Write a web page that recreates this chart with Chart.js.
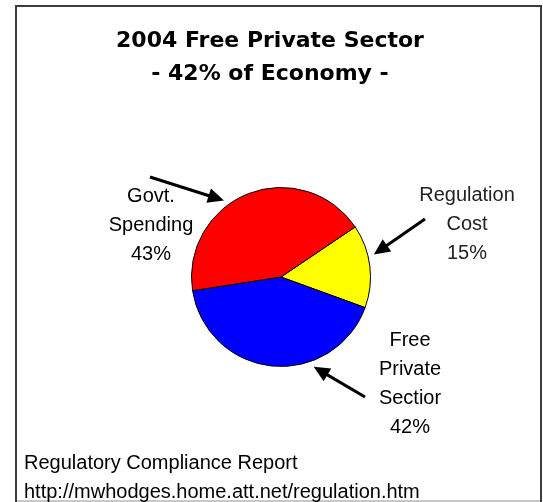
<!DOCTYPE html>
<html>
<head>
<meta charset="utf-8">
<script src="https://cdn.jsdelivr.net/npm/chart.js@4"></script>
<style>
body { margin: 0; background: #fff; }
</style>
</head>
<body>
<canvas id="pieChart" width="543" height="502"></canvas>
<script>
const categories = ["Regulation Cost", "Free Private Sector", "Govt. Spending"];
const shares = [15, 42, 43];
const sliceColors = ["#FFFF00", "#0000FF", "#FF0000"];
const labelWords = [
    ["Regulation", "Cost"],
    ["Free", "Private", "Sectior"],
    ["Govt.", "Spending"]
];
const titleLines = ["2004 Free Private Sector", "- 42% of Economy -"];
const footerLines = ["Regulatory Compliance Report", "http://mwhodges.home.att.net/regulation.htm"];

// where each label sits and where its arrow starts / points (canvas degrees)
const labelSpots = [
    { x: 467, y: 195, tailX: 425, tailY: 219, tipAngle: -13.6 },
    { x: 410, y: 340, tailX: 365, tailY: 397, tipAngle: 70 },
    { x: 151, y: 196, tailX: 150, tailY: 177, tipAngle: -126.7 }
];

function drawArrow(ctx, x1, y1, x2, y2) {
    const ang = Math.atan2(y2 - y1, x2 - x1);
    const headLen = 16;
    const headHalf = 7.5;
    const bx = x2 - Math.cos(ang) * headLen;
    const by = y2 - Math.sin(ang) * headLen;
    ctx.strokeStyle = "#000";
    ctx.lineWidth = 3;
    ctx.beginPath();
    ctx.moveTo(x1, y1);
    ctx.lineTo(bx + Math.cos(ang) * 2, by + Math.sin(ang) * 2);
    ctx.stroke();
    ctx.fillStyle = "#000";
    ctx.beginPath();
    ctx.moveTo(x2, y2);
    ctx.lineTo(bx + Math.sin(ang) * headHalf, by - Math.cos(ang) * headHalf);
    ctx.lineTo(bx - Math.sin(ang) * headHalf, by + Math.cos(ang) * headHalf);
    ctx.closePath();
    ctx.fill();
}

const annotations = {
    id: "annotations",
    beforeDraw(chart) {
        const ctx = chart.ctx;
        ctx.save();
        ctx.fillStyle = "#fff";
        ctx.fillRect(0, 0, chart.width, chart.height);
        // frame
        ctx.fillStyle = "#3c3c3c";
        ctx.fillRect(15, 5, 2, 497);
        ctx.fillRect(15, 5, 527, 2);
        ctx.fillRect(540, 5, 2, 497);
        ctx.fillStyle = "#c8c8c8";
        ctx.fillRect(17, 500, 523, 2);
        ctx.restore();
    },
    afterDraw(chart) {
        const ctx = chart.ctx;
        const arcs = chart.getDatasetMeta(0).data;
        ctx.save();
        ctx.textBaseline = "middle";

        ctx.textAlign = "center";
        ctx.fillStyle = "#000";
        ctx.font = "bold 22px 'DejaVu Sans'";
        titleLines.forEach((t, i) => ctx.fillText(t, 270, 41 + i * 33));

        ctx.font = "20px 'Liberation Sans'";
        ctx.fillStyle = "#222";
        labelSpots.forEach((spot, i) => {
            const lines = labelWords[i].concat([shares[i] + "%"]);
            lines.forEach((t, j) => ctx.fillText(t, spot.x, spot.y + j * 29));
            const arc = arcs[i];
            const a = spot.tipAngle * Math.PI / 180;
            const r = arc.outerRadius + 6;
            drawArrow(ctx, spot.tailX, spot.tailY, arc.x + Math.cos(a) * r, arc.y + Math.sin(a) * r);
        });

        ctx.textAlign = "left";
        footerLines.forEach((t, i) => ctx.fillText(t, 24, 463 + i * 29));
        ctx.restore();
    }
};

new Chart(
document.getElementById("pieChart"),
{
    type: "pie",
    data: {
        labels: categories,
        datasets: [{
            data: shares,
            backgroundColor: sliceColors,
            borderColor: "#000",
            borderWidth: 1
        }]
    },
    options: {
        responsive: false,
        animation: false,
        rotation: 56,
        layout: {
            padding: { left: 191, right: 172, top: 187, bottom: 135 }
        },
        plugins: {
            legend: { display: false },
            tooltip: { enabled: false }
        }
    },
    plugins: [annotations]
}
);
</script>
</body>
</html>
